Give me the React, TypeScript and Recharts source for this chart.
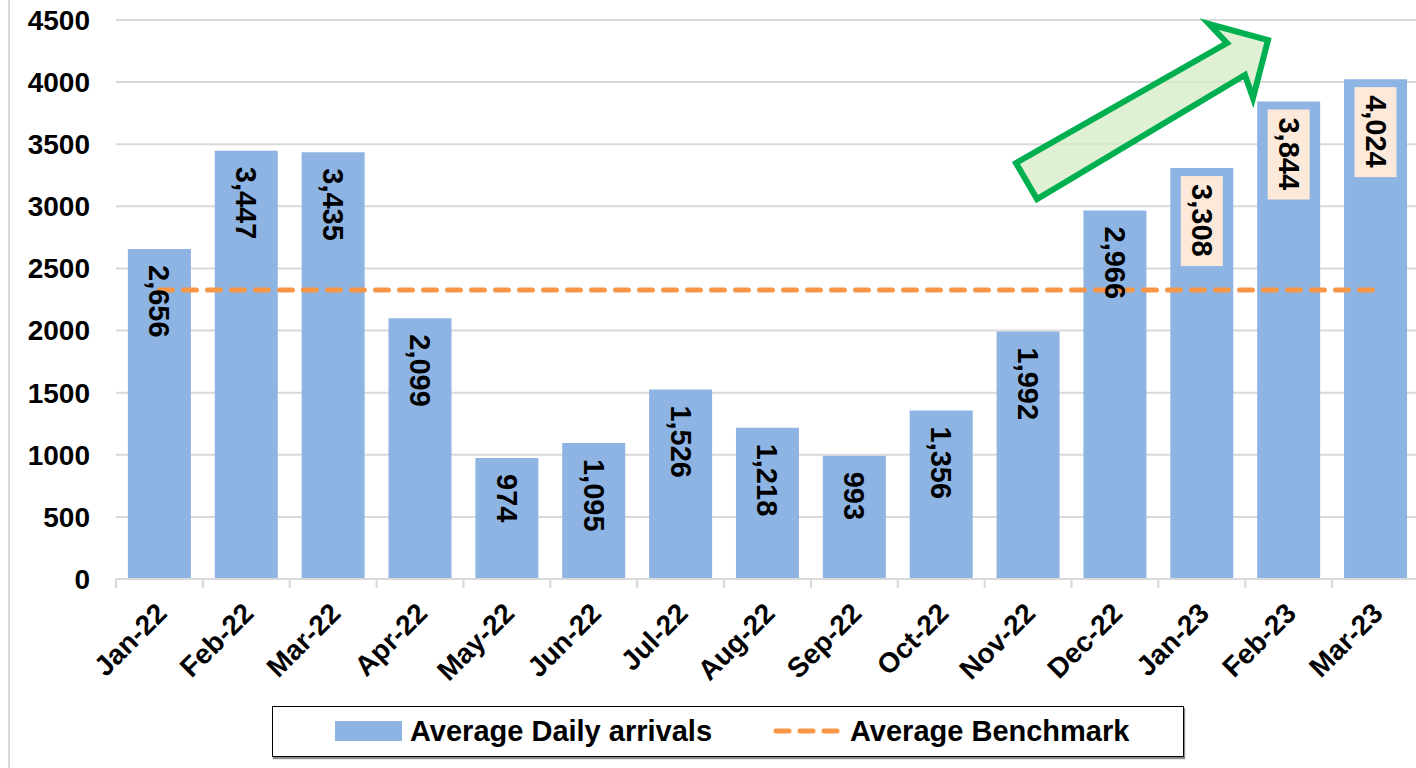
import React from 'react';
import {
  Bar,
  Line,
  XAxis,
  YAxis,
  CartesianGrid,
  LabelList,
  ComposedChart,
} from 'recharts';

const months = [
  'Jan-22', 'Feb-22', 'Mar-22', 'Apr-22', 'May-22', 'Jun-22', 'Jul-22', 'Aug-22',
  'Sep-22', 'Oct-22', 'Nov-22', 'Dec-22', 'Jan-23', 'Feb-23', 'Mar-23',
];
const dailyArrivals = [2656, 3447, 3435, 2099, 974, 1095, 1526, 1218, 993, 1356, 1992, 2966, 3308, 3844, 4024];
const benchmark = 2327;
const yTicks = [0, 500, 1000, 1500, 2000, 2500, 3000, 3500, 4000, 4500];
const highlighted = ['Jan-23', 'Feb-23', 'Mar-23'];

const W = 1416;
const H = 768;
// plot area runs a few pixels past the right edge of the frame
const CHART_W = 1419;
const MARGIN = { top: 20, right: 0, left: 0, bottom: 69 };
const Y_AXIS_W = 116;
const BAND = (CHART_W - Y_AXIS_W - MARGIN.right) / months.length;

const FONT = '"Liberation Sans", Arial, sans-serif';
const BAR_COLOR = '#8EB4E3';
const LINE_COLOR = '#F79646';
const GRID_COLOR = '#D9D9D9';

const data = months.map((m, i) => ({ month: m, arrivals: dailyArrivals[i], benchmark }));

// category label rotated 45°, plus a tick mark on each band boundary
const MonthTick = (props: any) => {
  const { x, y, payload, index } = props;
  const left = x - BAND / 2;
  const last = index === months.length - 1;
  return (
    <g>
      <line x1={left} y1={y} x2={left} y2={y + 9} stroke={GRID_COLOR} strokeWidth={2} />
      {last && <line x1={left + BAND} y1={y} x2={left + BAND} y2={y + 9} stroke={GRID_COLOR} strokeWidth={2} />}
      <text
        transform={`translate(${x + 9}, ${y + 36}) rotate(-45)`}
        textAnchor="end"
        fontFamily={FONT}
        fontWeight="bold"
        fontSize={28}
        fill="#000"
      >
        {payload.value}
      </text>
    </g>
  );
};

// value label written downwards just inside the top of each bar
const ValueLabel = (props: any) => {
  const { x, y, width, value, index } = props;
  const cx = x + width / 2;
  const top = y + 16;
  const boxed = highlighted.includes(months[index]);
  const text = Number(value).toLocaleString('en-US');
  return (
    <g>
      {boxed && <rect x={cx - 21} y={y + 8} width={42} height={text.length * 14 + 20} fill="#FDE9D9" />}
      <text
        x={cx}
        y={top}
        transform={`rotate(90, ${cx}, ${top})`}
        textAnchor="start"
        dominantBaseline="central"
        fontFamily={FONT}
        fontWeight="bold"
        fontSize={29}
        fill="#000"
      >
        {text}
      </text>
    </g>
  );
};

const Legend = () => (
  <div
    style={{
      position: 'absolute',
      left: 272,
      top: 706,
      width: 910,
      height: 49,
      border: '1px solid #000',
      boxShadow: '1px 2px 1px rgba(0,0,0,0.45)',
    }}
  >
    <svg width={910} height={49} style={{ position: 'absolute', left: 0, top: 0 }}>
      <rect x={62} y={14} width={67} height={20} fill={BAR_COLOR} />
      <line
        x1={503}
        y1={24}
        x2={565}
        y2={24}
        stroke={LINE_COLOR}
        strokeWidth={5}
        strokeLinecap="round"
        strokeDasharray="13 11"
      />
      <text x={137} y={34} fontFamily={FONT} fontWeight="bold" fontSize={29}>
        Average Daily arrivals
      </text>
      <text x={577} y={34} fontFamily={FONT} fontWeight="bold" fontSize={29}>
        Average Benchmark
      </text>
    </svg>
  </div>
);

// upward trend arrow over the last months
const TrendArrow = () => (
  <svg width={W} height={H} style={{ position: 'absolute', left: 0, top: 0, pointerEvents: 'none' }}>
    <polygon
      points="1016,163 1227,43 1209,24 1268,40 1253,98 1245,75 1037,199"
      fill="#D6EBC6"
      fillOpacity={0.75}
      stroke="#00B050"
      strokeWidth={6}
      strokeLinejoin="miter"
    />
  </svg>
);

export default function App() {
  return (
    <div style={{ position: 'absolute', left: 0, top: 0, width: W, height: H, background: '#fff', overflow: 'hidden' }}>
      <div style={{ position: 'absolute', left: 8, top: 0, width: 2, height: H, background: GRID_COLOR }} />
      <ComposedChart width={CHART_W} height={H} data={data} margin={MARGIN} barCategoryGap="13.7%">
        <CartesianGrid vertical={false} stroke={GRID_COLOR} strokeWidth={2} />
        <XAxis
          dataKey="month"
          interval={0}
          height={120}
          tickLine={false}
          tickSize={0}
          tickMargin={0}
          axisLine={{ stroke: GRID_COLOR, strokeWidth: 2 }}
          tick={<MonthTick />}
        />
        <YAxis
          width={Y_AXIS_W}
          domain={[0, 4500]}
          ticks={yTicks}
          interval={0}
          axisLine={false}
          tickLine={false}
          tickMargin={20}
          tick={{ fontFamily: FONT, fontWeight: 'bold', fontSize: 28, fill: '#000' }}
        />
        <Bar dataKey="arrivals" fill={BAR_COLOR} isAnimationActive={false}>
          <LabelList dataKey="arrivals" content={<ValueLabel />} />
        </Bar>
        <Line
          dataKey="benchmark"
          stroke={LINE_COLOR}
          strokeWidth={5}
          strokeLinecap="round"
          strokeDasharray="13 11"
          dot={false}
          activeDot={false}
          isAnimationActive={false}
        />
      </ComposedChart>
      <TrendArrow />
      <Legend />
    </div>
  );
}
